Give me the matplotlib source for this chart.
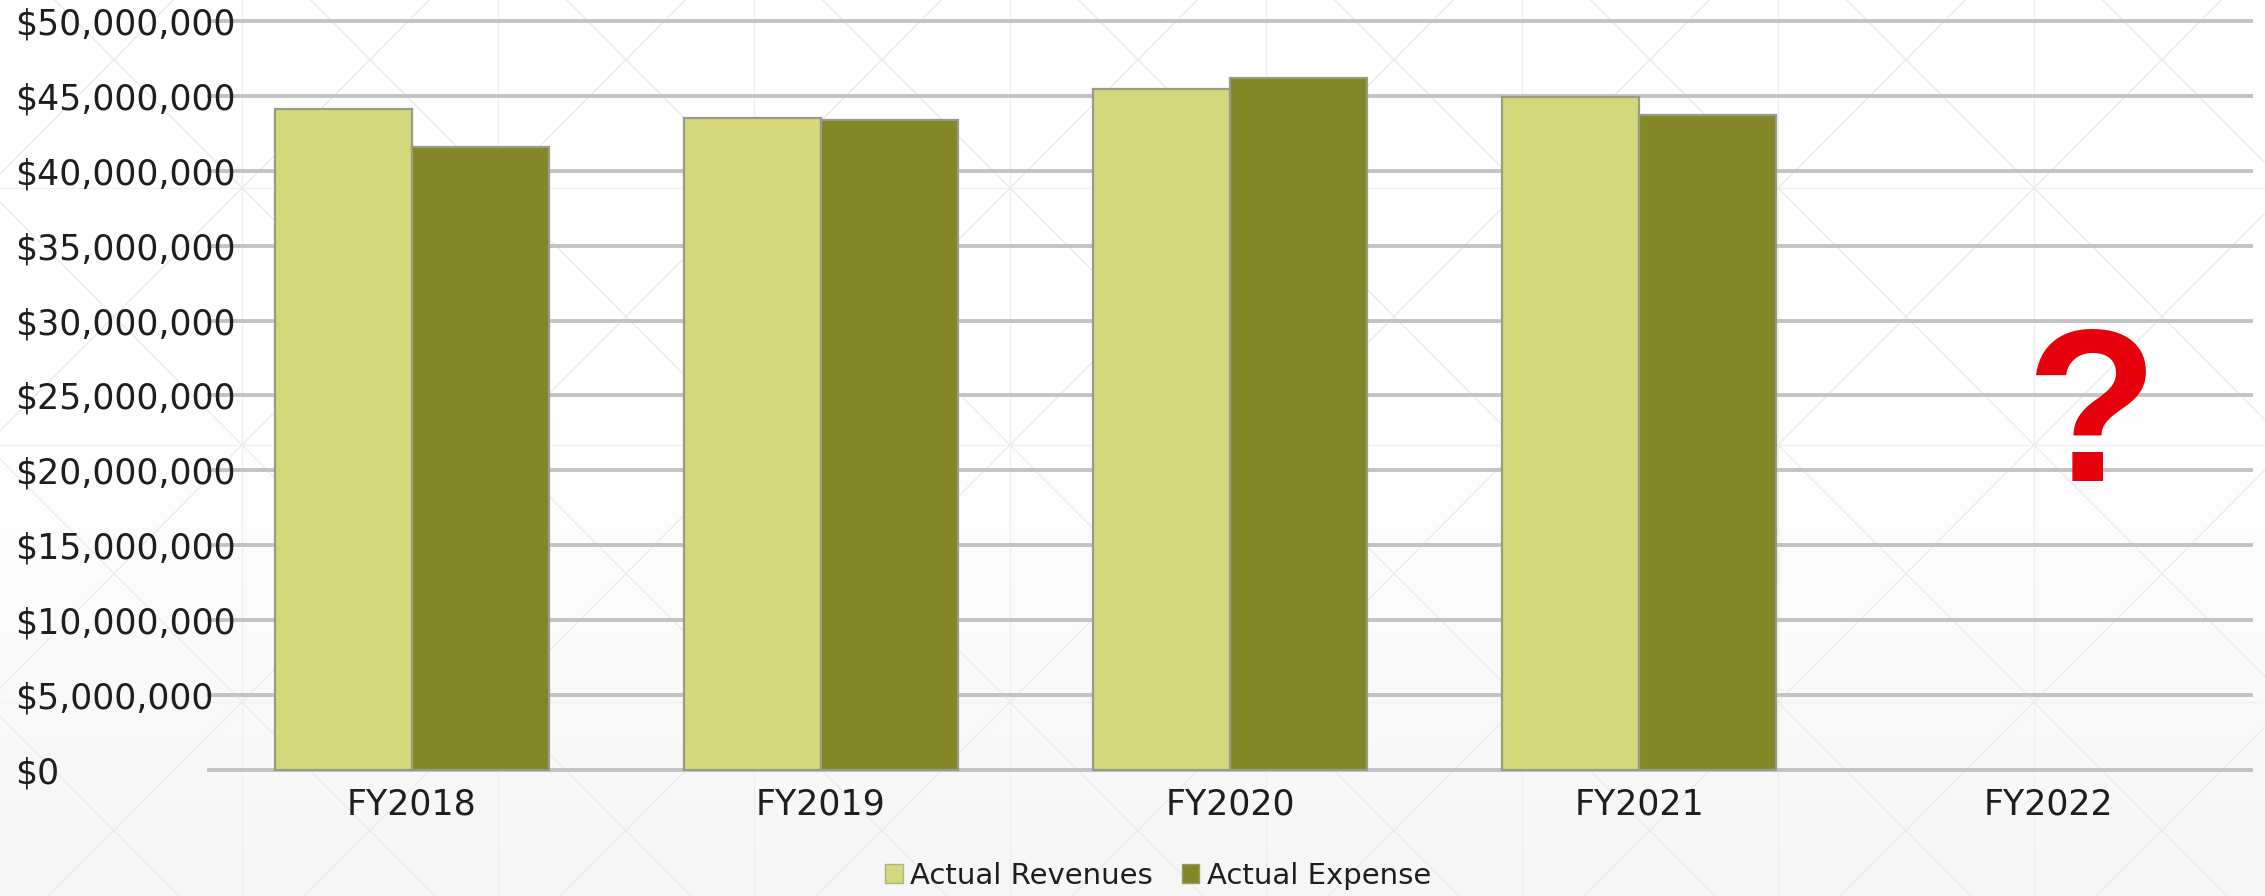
import numpy as np
import matplotlib
matplotlib.use("Agg")
import matplotlib.pyplot as plt
from matplotlib.patches import Patch
from matplotlib.ticker import FuncFormatter

# ---- data -------------------------------------------------------------
years = ["FY2018", "FY2019", "FY2020", "FY2021", "FY2022"]
revenues = [44_100_000, 43_550_000, 45_450_000, 44_900_000]
expenses = [41_600_000, 43_400_000, 46_200_000, 43_700_000]
series_names = ["Actual Revenues", "Actual Expense"]
y_ticks = list(range(0, 50_000_001, 5_000_000))
unknown_year = "FY2022"
unknown_mark = "?"

# ---- styling ----------------------------------------------------------
W, H, DPI = 2265, 896, 100
REV_COLOR = "#d4d87b"
EXP_COLOR = "#838727"
EDGE = "#9a9a86"
GRID = "#c3c3c3"
TEXT = "#1e1e1e"
FONT = "DejaVu Sans"

plt.rcParams["font.family"] = [FONT]

fig = plt.figure(figsize=(W / DPI, H / DPI), dpi=DPI)
fig.patch.set_facecolor("white")

# slide background: soft vertical gradient with a faint lattice pattern
bg = fig.add_axes([0, 0, 1, 1], zorder=-10)
rows = np.arange(H)
shade = np.where(rows < 420, 1.0, 1.0 - 0.035 * (rows - 420) / (H - 420))
img = np.repeat(shade[:, None, None], 3, axis=2).repeat(2, axis=1)
bg.imshow(img, extent=[0, W, H, 0], aspect="auto", interpolation="bilinear")
cell_w, cell_h = 256, 257
x0, y0 = -14, -69
for i in range(-1, 11):
    x = x0 + i * cell_w
    bg.plot([x, x], [0, H], color="#efefef", lw=1.0)
for j in range(-1, 6):
    y = y0 + j * cell_h
    bg.plot([0, W], [y, y], color="#f1f1f1", lw=1.0)
    for i in range(-1, 11):
        x = x0 + i * cell_w
        bg.plot([x, x + cell_w], [y, y + cell_h], color="#ebebeb", lw=1.0)
        bg.plot([x, x + cell_w], [y + cell_h, y], color="#ebebeb", lw=1.0)
bg.set_xlim(0, W)
bg.set_ylim(H, 0)
bg.axis("off")

# ---- chart ------------------------------------------------------------
# plot box: $0 at y=770 px, $50M at y=21 px, with a few px of margin so the
# outer gridlines are not clipped
left, right, y_zero, y_top = 207, 2253, 770, 21
margin = 4
per_px = y_ticks[-1] / (y_zero - y_top)
ax = fig.add_axes([left / W, 1 - (y_zero + margin) / H, (right - left) / W,
                   (y_zero - y_top + 2 * margin) / H])
ax.patch.set_alpha(0)

x = np.arange(len(years))
bw = 0.335
n = len(revenues)
ax.bar(x[:n] - bw / 2, revenues, width=bw, color=REV_COLOR,
       edgecolor=EDGE, linewidth=1.6, zorder=3)
ax.bar(x[:n] + bw / 2, expenses, width=bw, color=EXP_COLOR,
       edgecolor=EDGE, linewidth=1.6, zorder=3)

ax.set_xlim(-0.5, len(years) - 0.5)
ax.set_ylim(-margin * per_px, y_ticks[-1] + margin * per_px)
ax.set_yticks(y_ticks)
ax.yaxis.set_major_formatter(FuncFormatter(lambda v, _: f"${v:,.0f}"))
ax.set_xticks(x)
ax.set_xticklabels(years)

ax.yaxis.grid(True, color=GRID, linewidth=2.8, zorder=0)
ax.set_axisbelow(True)
for s in ax.spines.values():
    s.set_visible(False)

ax.tick_params(axis="y", length=0, pad=138, labelsize=25, labelcolor=TEXT)
ax.tick_params(axis="x", length=0, pad=10, labelsize=25, labelcolor=TEXT)
for lab in ax.get_yticklabels():
    lab.set_horizontalalignment("left")

# outlook marker for the year without figures
ax.text(years.index(unknown_year) + 0.105, 19_300_000, unknown_mark,
        color="#e6000b", fontsize=156, fontweight="bold",
        family="Liberation Sans", ha="center", va="baseline", zorder=4)

handles = [Patch(facecolor=REV_COLOR, edgecolor="#b0b08a", linewidth=1.0),
           Patch(facecolor=EXP_COLOR, edgecolor="#9c9c6a", linewidth=1.0)]
fig.legend(handles, series_names, loc="center",
           bbox_to_anchor=(1158 / W, 1 - 876 / H), ncol=2, frameon=False,
           fontsize=21, handlelength=0.6, handleheight=0.6,
           handletextpad=0.25, columnspacing=1.0, labelcolor=TEXT,
           borderpad=0, borderaxespad=0)

fig.savefig("out.png", dpi=DPI)
